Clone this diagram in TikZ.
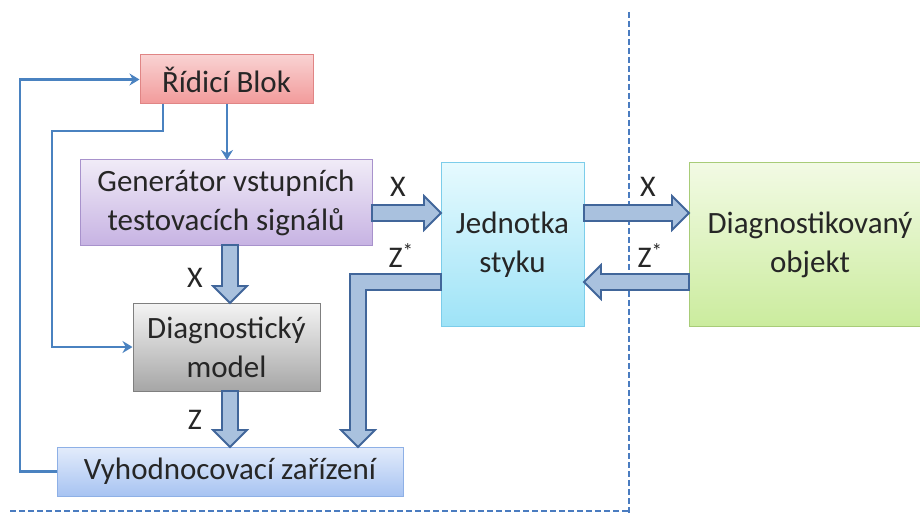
\documentclass[tikz,border=0pt]{standalone}
\usepackage{fontspec}
\setmainfont{Carlito}
\usetikzlibrary{calc,arrows.meta}
\definecolor{txt}{HTML}{262626}
\definecolor{thin}{HTML}{4A82C0}
\definecolor{dash}{HTML}{4A7CC0}
\definecolor{afill}{HTML}{A9C1DE}
\definecolor{aline}{HTML}{41669A}
\definecolor{rT}{HTML}{F9D2D2}\definecolor{rB}{HTML}{F29A9A}\definecolor{rD}{HTML}{E08585}
\definecolor{vT}{HTML}{F0EBF7}\definecolor{vB}{HTML}{C7B3E3}\definecolor{vD}{HTML}{A892CC}
\definecolor{gT}{HTML}{F4F4F4}\definecolor{gB}{HTML}{A6A6A6}\definecolor{gD}{HTML}{7F7F7F}
\definecolor{bT}{HTML}{E3ECFB}\definecolor{bB}{HTML}{A7C3F2}\definecolor{bD}{HTML}{8EB0E6}
\definecolor{cT}{HTML}{E6FAFE}\definecolor{cB}{HTML}{9EE3F7}\definecolor{cD}{HTML}{7CCDEA}
\definecolor{nT}{HTML}{F2FAE4}\definecolor{nB}{HTML}{CBEC9E}\definecolor{nD}{HTML}{A8CC78}
\tikzset{
  box/.style={draw, line width=1pt, minimum width=#1, align=center, inner sep=0pt, text=txt,
    font=\fontsize{31}{39}\selectfont},
  redbox/.style={top color=rT, bottom color=rB, draw=rD},
  violetbox/.style={top color=vT, bottom color=vB, draw=vD},
  graybox/.style={top color=gT, bottom color=gB, draw=gD},
  bluebox/.style={top color=bT, bottom color=bB, draw=bD},
  cyanbox/.style={top color=cT, bottom color=cB, draw=cD},
  greenbox/.style={top color=nT, bottom color=nB, draw=nD},
  thinarrow/.style={draw=thin, line width=2.4pt, -{Stealth[length=10pt,width=12pt]}},
  barrow/.style={fill=afill, draw=aline, line width=1.8pt, line join=miter},
  dline/.style={draw=dash, line width=1.8pt, dash pattern=on 6pt off 3pt},
  lbl/.style={text=txt, font=\fontsize{30}{33}\selectfont, inner sep=0pt}
}
% block arrows: start, end
\newcommand{\arrR}[2]{\draw[barrow] let \p1=(#1), \p2=(#2) in
  (\x1,\y1+8pt) -- (\x2-17pt,\y1+8pt) -- (\x2-17pt,\y1+17pt) -- (\x2,\y1) --
  (\x2-17pt,\y1-17pt) -- (\x2-17pt,\y1-8pt) -- (\x1,\y1-8pt) -- cycle;}
\newcommand{\arrL}[2]{\draw[barrow] let \p1=(#1), \p2=(#2) in
  (\x1,\y1+8pt) -- (\x2+17pt,\y1+8pt) -- (\x2+17pt,\y1+17pt) -- (\x2,\y1) --
  (\x2+17pt,\y1-17pt) -- (\x2+17pt,\y1-8pt) -- (\x1,\y1-8pt) -- cycle;}
\newcommand{\arrD}[2]{\draw[barrow] let \p1=(#1), \p2=(#2) in
  (\x1-8pt,\y1) -- (\x1-8pt,\y2+17pt) -- (\x1-17pt,\y2+17pt) -- (\x1,\y2) --
  (\x1+17pt,\y2+17pt) -- (\x1+8pt,\y2+17pt) -- (\x1+8pt,\y1) -- cycle;}
\begin{document}
\begin{tikzpicture}[x=1pt,y=-1pt]
\useasboundingbox (0,0) rectangle (920,513);
\clip (0,0) rectangle (920,513);

% dashed separators
\coordinate (dtop) at (629,12);
\coordinate (dbot) at (629,513);
\coordinate (dleft) at (10,511);
\coordinate (dcorner) at (629,511);
\draw[dline] (dtop) -- (dbot);
\draw[dline] (dleft) -- (dcorner);

% nodes
\node[box=173pt, minimum height=49pt, redbox] (rb) at (226.5,79.5) {Řídicí Blok};
\node[box=292pt, minimum height=85pt, violetbox] (gen) at (226,202.5) {Generátor vstupních\\testovacích signálů};
\node[box=187pt, minimum height=88pt, graybox] (dm) at (226.5,347) {Diagnostický\\model};
\node[box=346pt, minimum height=49pt, bluebox] (vz) at (230,471.5) {Vyhodnocovací zařízení};
\node[box=143pt, minimum height=163pt, cyanbox] (jed) at (512.5,244.5) {Jednotka\\styku};
\node[box=242pt, minimum height=163pt, greenbox] (obj) at (810,244.5) {Diagnostikovaný\\objekt};

% thin arrows
\coordinate (l1) at (20,471.5);
\coordinate (l2) at (20,79.5);
\draw[thinarrow] (vz.west) -- (l1) -- (l2) -- (rb.west);
\coordinate (m0) at (163,104);
\coordinate (m1) at (163,131);
\coordinate (m2) at (52,131);
\coordinate (m3) at (52,347);
\draw[thinarrow] (m0) -- (m1) -- (m2) -- (m3) -- (dm.west);
\coordinate (n0) at (227,104);
\coordinate (n1) at (227,160);
\draw[thinarrow] (n0) -- (n1);

% block arrows
\coordinate (a1) at (372,213); \coordinate (a2) at (441,213);
\arrR{a1}{a2}
\coordinate (b1) at (584,213); \coordinate (b2) at (689,213);
\arrR{b1}{b2}
\coordinate (c1) at (689,282); \coordinate (c2) at (584,282);
\arrL{c1}{c2}
\coordinate (d1) at (230,245); \coordinate (d2) at (230,303);
\arrD{d1}{d2}
\coordinate (e1) at (230,391); \coordinate (e2) at (230,447);
\arrD{e1}{e2}
% L-shaped arrow from Jednotka styku to Vyhodnocovaci zarizeni
\coordinate (f1) at (441,282); \coordinate (f2) at (358,447);
\draw[barrow] let \p1=(f1), \p2=(f2) in
  (\x1,\y1+8pt) -- (\x2-8pt,\y1+8pt) -- (\x2-8pt,\y2+17pt) -- (\x2-17pt,\y2+17pt) --
  (\x2,\y2) -- (\x2+17pt,\y2+17pt) -- (\x2+8pt,\y2+17pt) -- (\x2+8pt,\y1-8pt) --
  (\x1,\y1-8pt) -- cycle;

% labels
\node[lbl] (lx1) at (398,187) {X};
\node[lbl] (lz1) at (401,256) {Z\textsuperscript{*}};
\node[lbl] (lx2) at (648,187) {X};
\node[lbl] (lz2) at (650,256) {Z\textsuperscript{*}};
\node[lbl] (lx3) at (195,278) {X};
\node[lbl] (lz3) at (195,420) {Z};
\end{tikzpicture}
\end{document}
